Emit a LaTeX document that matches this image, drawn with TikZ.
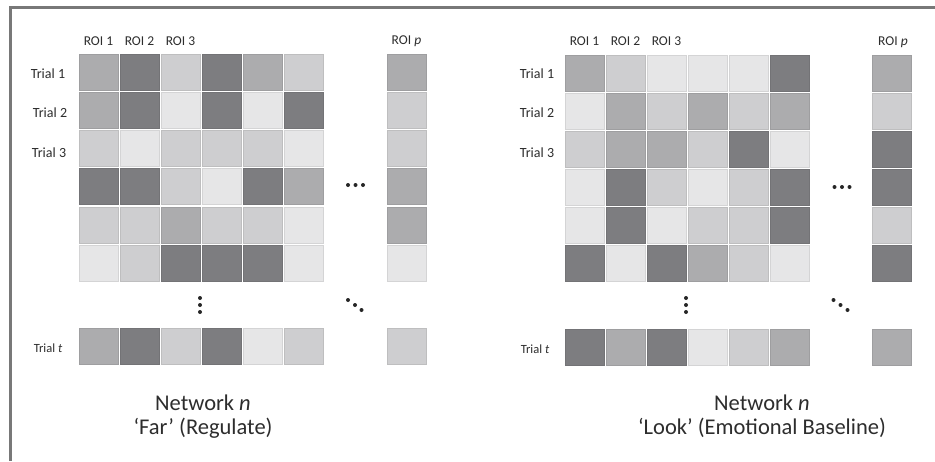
\documentclass[tikz,border=0pt]{standalone}
\usepackage{fontspec}
\setmainfont{Carlito}
\definecolor{cD}{RGB}{125,125,128}
\definecolor{cM}{RGB}{172,172,174}
\definecolor{cL}{RGB}{206,206,208}
\definecolor{cV}{RGB}{230,230,231}
\definecolor{txt}{RGB}{45,45,45}
\definecolor{frame}{RGB}{120,120,120}
\tikzset{
  cell/.style={minimum width=39pt, minimum height=36pt, inner sep=0pt, draw=#1!92!black, fill=#1, line width=0.5pt},
  roi/.style={font=\fontsize{13.5}{15}\selectfont, text=txt, inner sep=0pt},
  trial/.style={font=\fontsize{14}{16}\selectfont, text=txt, inner sep=0pt},
  trialt/.style={font=\fontsize{12.5}{14}\selectfont, text=txt, inner sep=0pt},
  title/.style={font=\fontsize{22.5}{26}\selectfont, text=txt, inner sep=0pt},
  dot/.style={circle, fill=black!85, inner sep=0pt, minimum size=4pt},
}
\newcommand\gridrow[4]{%
  \foreach \c [count=\i from 1] in {#4} {
    \node[cell=\c] (#1-\i) at ({#3+41*(\i-1)+19.5}, {#2+18}) {};
  }}
\begin{document}
\begin{tikzpicture}[x=1pt, y=-1pt]
\useasboundingbox (0,0) rectangle (935,461);
\fill[white] (0,0) rectangle (935,461);
% frame
\draw[frame, line width=3pt] (10,461) -- (10,7.5) -- (935,7.5);

% ---------- left grid ----------
\gridrow{La}{54}{79}{cM,cD,cL,cD,cM,cL}
\gridrow{Lb}{92}{79}{cM,cD,cV,cD,cV,cD}
\gridrow{Lc}{130}{79}{cL,cV,cL,cL,cL,cV}
\gridrow{Ld}{168}{79}{cD,cD,cL,cV,cD,cM}
\gridrow{Le}{207}{79}{cL,cL,cM,cL,cL,cV}
\gridrow{Lf}{245}{79}{cV,cL,cD,cD,cD,cV}
\gridrow{Lt}{328}{79}{cM,cD,cL,cD,cV,cL}
\node[cell=cM] (Lpa) at (406.5,72) {};
\node[cell=cL] (Lpb) at (406.5,110) {};
\node[cell=cL] (Lpc) at (406.5,148) {};
\node[cell=cM] (Lpd) at (406.5,186) {};
\node[cell=cM] (Lpe) at (406.5,225) {};
\node[cell=cV] (Lpf) at (406.5,263) {};
\node[cell=cL] (Lpt) at (406.5,346) {};

\node[roi] (Lr1) at (98.5,41) {ROI 1};
\node[roi] (Lr2) at (139.5,41) {ROI 2};
\node[roi] (Lr3) at (180.5,41) {ROI 3};
\node[roi] (Lrp) at (406.5,41) {ROI \textit{p}};
\node[trial] (Lt1) at (48,74) {Trial 1};
\node[trial] (Lt2) at (50,113) {Trial 2};
\node[trial] (Lt3) at (49,153) {Trial 3};
\node[trialt] (Ltt) at (48,348) {Trial \textit{t}};

\node[dot] (Lh1) at (348,185) {};
\node[dot] (Lh2) at (355.5,185) {};
\node[dot] (Lh3) at (363,185) {};
\node[dot] (Lv1) at (200,298) {};
\node[dot] (Lv2) at (200,305) {};
\node[dot] (Lv3) at (200,312) {};
\node[dot] (Ld1) at (348,300) {};
\node[dot] (Ld2) at (355,305) {};
\node[dot] (Ld3) at (361.5,310) {};

\node[title] (Ln) at (203,403) {Network \textit{n}};
\node[title] (Lf) at (203,428) {‘Far’ (Regulate)};

% ---------- right grid ----------
\gridrow{Ra}{55}{565}{cM,cL,cV,cV,cV,cD}
\gridrow{Rb}{93}{565}{cV,cM,cL,cM,cL,cM}
\gridrow{Rc}{131}{565}{cL,cM,cM,cL,cD,cV}
\gridrow{Rd}{169}{565}{cV,cD,cL,cV,cL,cD}
\gridrow{Re}{207}{565}{cV,cD,cV,cL,cL,cD}
\gridrow{Rf}{245}{565}{cD,cV,cD,cM,cL,cV}
\gridrow{Rt}{329}{565}{cD,cM,cD,cV,cL,cM}
\node[cell=cM] (Rpa) at (892,73) {};
\node[cell=cL] (Rpb) at (892,111) {};
\node[cell=cD] (Rpc) at (892,149) {};
\node[cell=cD] (Rpd) at (892,187) {};
\node[cell=cL] (Rpe) at (892,225) {};
\node[cell=cD] (Rpf) at (892,263) {};
\node[cell=cM] (Rpt) at (892,347) {};

\node[roi] (Rr1) at (584.5,41) {ROI 1};
\node[roi] (Rr2) at (625.5,41) {ROI 2};
\node[roi] (Rr3) at (666.5,41) {ROI 3};
\node[roi] (Rrp) at (893,42) {ROI \textit{p}};
\node[trial] (Rt1) at (537,74) {Trial 1};
\node[trial] (Rt2) at (537,113) {Trial 2};
\node[trial] (Rt3) at (537,153) {Trial 3};
\node[trialt] (Rtt) at (535,349) {Trial \textit{t}};

\node[dot] (Rh1) at (834.5,187) {};
\node[dot] (Rh2) at (842,187) {};
\node[dot] (Rh3) at (849.5,187) {};
\node[dot] (Rv1) at (686,298) {};
\node[dot] (Rv2) at (686,305) {};
\node[dot] (Rv3) at (686,312) {};
\node[dot] (Rd1) at (833.5,300) {};
\node[dot] (Rd2) at (840.5,305) {};
\node[dot] (Rd3) at (847.5,310) {};

\node[title] (Rn) at (762,403) {Network \textit{n}};
\node[title] (Rf) at (762,428) {‘Look’ (Emotional Baseline)};
\end{tikzpicture}
\end{document}
